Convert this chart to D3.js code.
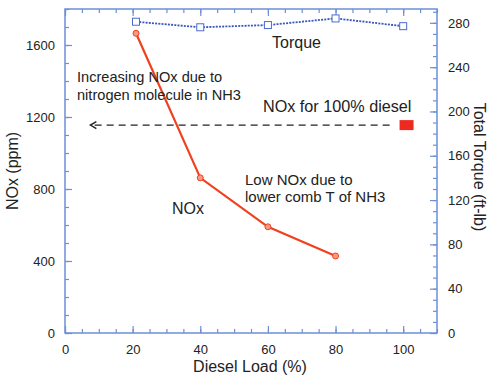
<!DOCTYPE html>
<html>
<head>
<meta charset="utf-8">
<script src="https://cdnjs.cloudflare.com/ajax/libs/d3/7.8.5/d3.min.js"></script>
<style>
body { margin: 0; background: #fff; }
text { font-family: "Liberation Sans", Arial, sans-serif; fill: #222; }
</style>
</head>
<body>
<svg id="chart" width="488" height="376"></svg>
<script>
// diesel load (%)
var load = [21, 40, 60, 80];
var noxPpm = [1665, 862, 590, 428];

var torqueLoad = [21, 40, 60, 80, 100];
var torque = [281, 276, 278, 284, 277];

// reference point, 100% diesel
var dieselLoad = [101];
var dieselNox = [1155];

var xTicks = [0, 20, 40, 60, 80, 100];
var yTicks = [0, 400, 800, 1200, 1600];
var y2Ticks = [0, 40, 80, 120, 160, 200, 240, 280];

var svg = d3.select('#chart');
var axisColor = '#6d8fd8';
var fmt = d3.format('d');

var x = d3.scaleLinear().domain([0, 110]).range([65, 437]);
var y = d3.scaleLinear().domain([0, 1800]).range([333, 9]);
var y2 = d3.scaleLinear().domain([0, 292.5]).range([333, 9]);

function styleAxis(g) {
	g.select('.domain').remove();
	g.selectAll('.tick line').attr('stroke', axisColor).attr('stroke-width', 1.2);
	g.selectAll('.tick text').style('font-size', '13px').attr('fill', '#222');
}

// minor ticks first, major ticks over them
svg.append('g').attr('transform', 'translate(0,333)')
	.call(d3.axisBottom(x).tickValues(d3.range(0, 111, 5)).tickSize(-4).tickFormat(''))
	.call(styleAxis);
svg.append('g').attr('transform', 'translate(0,333)')
	.call(d3.axisBottom(x).tickValues(xTicks).tickSize(-7).tickPadding(12).tickFormat(fmt))
	.call(styleAxis);
svg.append('g').attr('transform', 'translate(0,9)')
	.call(d3.axisTop(x).tickValues(d3.range(0, 111, 5)).tickSize(-4).tickFormat(''))
	.call(styleAxis);
svg.append('g').attr('transform', 'translate(0,9)')
	.call(d3.axisTop(x).tickValues(xTicks).tickSize(-7).tickFormat(''))
	.call(styleAxis);

svg.append('g').attr('transform', 'translate(65,0)')
	.call(d3.axisLeft(y).tickValues(d3.range(0, 1801, 100)).tickSize(-4).tickFormat(''))
	.call(styleAxis);
svg.append('g').attr('transform', 'translate(65,0)')
	.call(d3.axisLeft(y).tickValues(yTicks).tickSize(-7).tickPadding(10).tickFormat(fmt))
	.call(styleAxis);

svg.append('g').attr('transform', 'translate(437,0)')
	.call(d3.axisRight(y2).tickValues(d3.range(0, 291, 10)).tickSize(-4).tickFormat(''))
	.call(styleAxis);
svg.append('g').attr('transform', 'translate(437,0)')
	.call(d3.axisRight(y2).tickValues(y2Ticks).tickSize(-7).tickPadding(11).tickFormat(fmt))
	.call(styleAxis);

// frame
svg.append('rect')
	.attr('x', x(0)).attr('y', y(1800))
	.attr('width', x(110) - x(0)).attr('height', y(0) - y(1800))
	.attr('fill', 'none').attr('stroke', axisColor).attr('stroke-width', 1.5);

// NOx line
var noxData = load.map(function(d, i) { return [d, noxPpm[i]]; });
svg.append('path').datum(noxData)
	.attr('fill', 'none').attr('stroke', '#f2401e').attr('stroke-width', 2.2)
	.attr('d', d3.line().x(function(d) { return x(d[0]); }).y(function(d) { return y(d[1]); }));
svg.selectAll('.noxpt').data(noxData).enter().append('circle')
	.attr('cx', function(d) { return x(d[0]); })
	.attr('cy', function(d) { return y(d[1]); })
	.attr('r', 3)
	.attr('fill', '#f89a80').attr('stroke', '#f2401e').attr('stroke-width', 1);

// torque line
var tqData = torqueLoad.map(function(d, i) { return [d, torque[i]]; });
svg.append('path').datum(tqData)
	.attr('fill', 'none').attr('stroke', '#3558c0').attr('stroke-width', 1.8)
	.attr('stroke-dasharray', '2,1.2')
	.attr('d', d3.line().x(function(d) { return x(d[0]); }).y(function(d) { return y2(d[1]); }));
svg.selectAll('.tqpt').data(tqData).enter().append('rect')
	.attr('x', function(d) { return x(d[0]) - 3.5; })
	.attr('y', function(d) { return y2(d[1]) - 3.5; })
	.attr('width', 7).attr('height', 7)
	.attr('fill', '#fff').attr('stroke', '#4a6cd0').attr('stroke-width', 1);

// 100% diesel point and dashed arrow
svg.selectAll('.dsl').data(dieselLoad).enter().append('rect')
	.attr('x', function(d) { return x(d) - 7; })
	.attr('y', function(d, i) { return y(dieselNox[i]) - 5; })
	.attr('width', 14).attr('height', 10)
	.attr('fill', '#ee2a20');

var ay = y(dieselNox[0]);
svg.append('line')
	.attr('x1', x(96)).attr('x2', x(7.5)).attr('y1', ay).attr('y2', ay)
	.attr('stroke', '#222').attr('stroke-width', 1.2).attr('stroke-dasharray', '7,5');
svg.append('path')
	.attr('d', 'M' + (x(7.5) + 6) + ',' + (ay - 3.5) + 'L' + x(7.5) + ',' + ay + 'L' + (x(7.5) + 6) + ',' + (ay + 3.5))
	.attr('fill', 'none').attr('stroke', '#222').attr('stroke-width', 1.4);

// annotations
function note(tx, ty, s, size) {
	svg.append('text').attr('x', tx).attr('y', ty).style('font-size', size + 'px').text(s);
}
note(272, 48, 'Torque', 16);
note(77, 82, 'Increasing NOx due to', 14.6);
note(77, 100, 'nitrogen molecule in NH3', 14.6);
note(263, 112, 'NOx for 100% diesel', 16.2);
note(245, 185, 'Low NOx due to', 15);
note(245, 202, 'lower comb T of NH3', 15);
note(172, 214, 'NOx', 16);

// axis titles
svg.append('text').attr('x', 250).attr('y', 372).attr('text-anchor', 'middle')
	.style('font-size', '16px').text('Diesel Load (%)');
svg.append('text').attr('transform', 'translate(18,171) rotate(-90)').attr('text-anchor', 'middle')
	.style('font-size', '16px').text('NOx (ppm)');
svg.append('text').attr('transform', 'translate(474,167) rotate(90)').attr('text-anchor', 'middle')
	.style('font-size', '16px').text('Total Torque (ft-lb)');
</script>
</body>
</html>
